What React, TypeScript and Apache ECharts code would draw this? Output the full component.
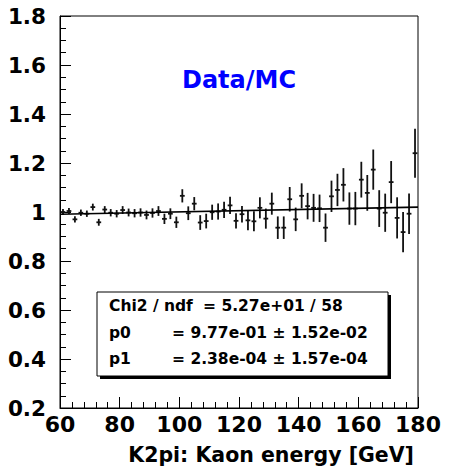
import React, { useEffect, useRef } from "react";
import * as echarts from "echarts";

// Kaon energy bin centres [GeV]
const energy = [
  61, 63, 65, 67, 69, 71, 73, 75, 77, 79,
  81, 83, 85, 87, 89, 91, 93, 95, 97, 99,
  101, 103, 105, 107, 109, 111, 113, 115, 117, 119,
  121, 123, 125, 127, 129, 131, 133, 135, 137, 139,
  141, 143, 145, 147, 149, 151, 153, 155, 157, 159,
  161, 163, 165, 167, 169, 171, 173, 175, 177, 179,
];
// Data/MC ratio
const ratio = [
  1.0, 1.004, 0.97, 0.997, 0.993, 1.02, 0.958, 1.01, 0.997, 0.993,
  1.008, 0.998, 0.995, 0.998, 0.988, 0.996, 1.004, 0.972, 0.993, 0.958,
  1.066, 0.995, 1.034, 0.957, 0.963, 0.999, 1.002, 1.009, 1.027, 0.964,
  0.991, 0.966, 0.962, 1.017, 0.973, 1.034, 0.936, 0.936, 1.052, 0.97,
  1.066, 1.024, 1.017, 1.015, 0.936, 1.064, 1.09, 1.111, 1.014, 1.014,
  1.132, 1.078, 1.173, 1.014, 0.997, 1.122, 0.976, 0.918, 0.993, 1.24,
];
// statistical errors
const ratioErr = [
  0.012, 0.012, 0.013, 0.013, 0.013, 0.014, 0.014, 0.014, 0.015, 0.015,
  0.016, 0.016, 0.017, 0.017, 0.018, 0.019, 0.02, 0.021, 0.022, 0.023,
  0.027, 0.028, 0.027, 0.03, 0.03, 0.031, 0.033, 0.033, 0.035, 0.031,
  0.034, 0.04, 0.041, 0.043, 0.041, 0.045, 0.046, 0.046, 0.05, 0.048,
  0.051, 0.054, 0.057, 0.056, 0.058, 0.064, 0.066, 0.068, 0.066, 0.068,
  0.073, 0.073, 0.082, 0.075, 0.078, 0.086, 0.084, 0.082, 0.083, 0.1,
];
const xHalfWidth = 0.8;

// linear fit line endpoints
const fitX = [60, 180];
const fitY = [0.991, 1.0198];

// stats box: [label, value, value x position]
const statLines: [string, string, number][] = [
  ["Chi2 / ndf", "= 5.27e+01 / 58", 203],
  ["p0", "= 9.77e-01 \u00b1 1.52e-02", 172],
  ["p1", "= 2.38e-04 \u00b1 1.57e-04", 172],
];

const FONT = "'DejaVu Sans', 'Liberation Sans', Arial, sans-serif";

export default function App() {
  const ref = useRef<HTMLDivElement>(null);
  useEffect(() => {
    if (!ref.current) return;
    const chart = echarts.init(ref.current, null, { renderer: "svg" });
    const pts = energy.map((e, i) => [e, ratio[i], ratioErr[i]]);
    const boxX = 97, boxY = 292, boxW = 291, boxH = 84;
    const statGraphics: any[] = [
      { type: "rect", shape: { x: boxX + 3, y: boxY + 3, width: boxW, height: boxH }, style: { fill: "#000" }, z: 10 },
      { type: "rect", shape: { x: boxX, y: boxY, width: boxW, height: boxH }, style: { fill: "#fff", stroke: "#000", lineWidth: 1 }, z: 11 },
    ];
    statLines.forEach((ln, i) => {
      const y = boxY + 14 + i * 26.5;
      statGraphics.push({
        type: "text", x: 109, y, z: 12,
        style: { text: ln[0], font: `bold 15.5px ${FONT}`, fill: "#000", textVerticalAlign: "middle" },
      });
      statGraphics.push({
        type: "text", x: ln[2], y, z: 12,
        style: { text: ln[1], font: `bold 15.5px ${FONT}`, fill: "#000", textVerticalAlign: "middle" },
      });
    });
    chart.setOption({
      animation: false,
      backgroundColor: "#fff",
      grid: { left: 60, top: 16, right: 35, bottom: 61, show: true, borderColor: "#000", borderWidth: 1, backgroundColor: "transparent" },
      xAxis: {
        type: "value", min: 60, max: 180, interval: 20,
        axisLine: { show: true, lineStyle: { color: "#000", width: 1 } },
        axisTick: { show: true, inside: true, length: 11, lineStyle: { color: "#000" } },
        minorTick: { show: true, splitNumber: 5, length: 6, lineStyle: { color: "#000" } },
        splitLine: { show: false },
        axisLabel: { color: "#000", fontFamily: FONT, fontWeight: "bold", fontSize: 22, margin: 5 },
      },
      yAxis: {
        type: "value", min: 0.2, max: 1.8, interval: 0.2,
        axisLine: { show: true, lineStyle: { color: "#000", width: 1 } },
        axisTick: { show: true, inside: true, length: 11, lineStyle: { color: "#000" } },
        minorTick: { show: true, splitNumber: 4, length: 6, lineStyle: { color: "#000" } },
        splitLine: { show: false },
        axisLabel: {
          color: "#000", fontFamily: FONT, fontWeight: "bold", fontSize: 21.5, margin: 14,
          formatter: (v: number) => String(parseFloat(v.toFixed(1))),
        },
      },
      series: [
        {
          type: "custom",
          clip: true,
          data: pts,
          renderItem: (params: any, api: any) => {
            const x = api.value(0), y = api.value(1), e = api.value(2);
            const c = api.coord([x, y]);
            const t = api.coord([x, y + e]);
            const b = api.coord([x, y - e]);
            const l = api.coord([x - xHalfWidth, y]);
            const r = api.coord([x + xHalfWidth, y]);
            const st = { stroke: "#111", lineWidth: 1.8 };
            return {
              type: "group",
              children: [
                { type: "line", shape: { x1: c[0], y1: t[1], x2: c[0], y2: b[1] }, style: st },
                { type: "line", shape: { x1: l[0], y1: c[1], x2: r[0], y2: c[1] }, style: st },
              ],
            };
          },
        },
        {
          type: "line",
          data: fitX.map((x, i) => [x, fitY[i]]),
          symbol: "none",
          lineStyle: { color: "#000", width: 1.6 },
          z: 3,
        },
      ],
      graphic: [
        {
          type: "text", x: 239, y: 80,
          style: { text: "Data/MC", font: `bold 24px ${FONT}`, fill: "#0000ff", textAlign: "center", textVerticalAlign: "middle" },
        },
        {
          type: "text", x: 414, y: 455,
          style: { text: "K2pi: Kaon energy [GeV]", font: `bold 20.5px ${FONT}`, fill: "#000", textAlign: "right", textVerticalAlign: "middle" },
        },
        ...statGraphics,
      ],
    });
    return () => chart.dispose();
  }, []);
  return <div ref={ref} style={{ position: "fixed", left: 0, top: 0, width: 453, height: 469 }} />;
}
